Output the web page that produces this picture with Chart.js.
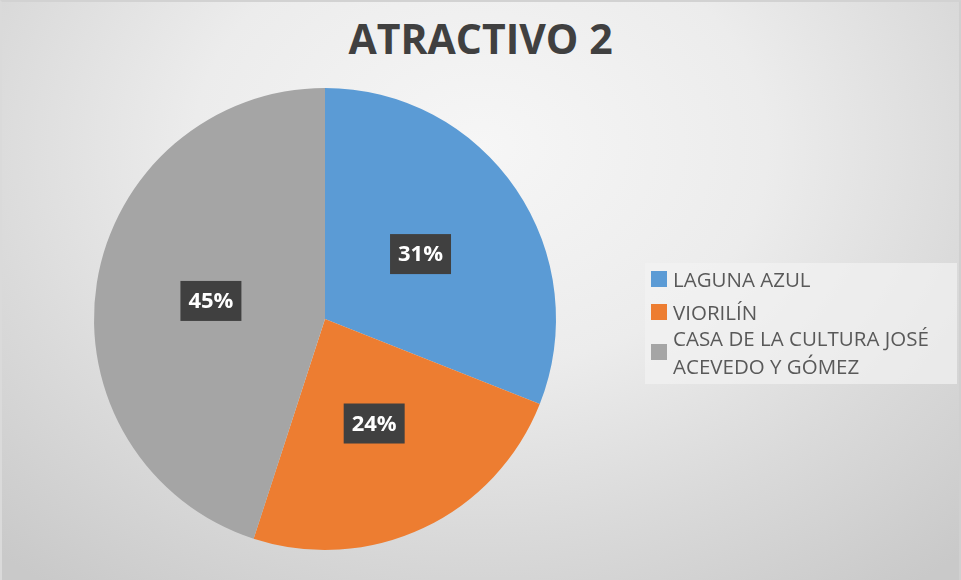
<!DOCTYPE html>
<html lang="es">
<head>
<meta charset="UTF-8">
<title>ATRACTIVO 2</title>
<script src="https://cdn.jsdelivr.net/npm/chart.js@4.4.1/dist/chart.umd.min.js"></script>
<style>
    html, body { margin: 0; padding: 0; }
    #wrap {
        position: relative;
        width: 961px;
        height: 580px;
        overflow: hidden;
        box-sizing: border-box;
        border-top: 2px solid #d2d2d2;
        border-left: 2px solid #dadada;
        border-right: 2px solid #d0d0d0;
        background: radial-gradient(ellipse 75% 95% at 50% 25%, #f6f6f6 0%, #ececec 40%, #dadada 70%, #c9c9c9 100%);
        font-family: "Open Sans", "Noto Sans", sans-serif;
    }
    #title {
        position: absolute;
        left: 0; right: 0; top: 8px;
        text-align: center;
        font-weight: bold;
        font-size: 41px;
        color: #404040;
    }
    #legend {
        position: absolute;
        left: 643px; top: 261px;
        width: 312px; height: 121px;
        background: rgba(242, 242, 242, 0.7);
        color: #595959;
        font-size: 20.5px;
    }
    .item { position: absolute; left: 6px; display: flex; align-items: center; }
    .sw { width: 16px; height: 16px; margin-right: 6px; flex: none; }
    .txt { line-height: 28px; white-space: nowrap; }
    canvas { position: absolute; left: 0; top: 0; }
</style>
</head>
<body>
<div id="wrap">
    <div id="title">ATRACTIVO 2</div>
    <canvas id="pie" width="961" height="580"></canvas>
    <div id="legend"></div>
</div>
<script>
    // data
    const labels = ['LAGUNA AZUL', 'VIORILÍN', 'CASA DE LA CULTURA JOSÉ ACEVEDO Y GÓMEZ'];
    const legendLines = [['LAGUNA AZUL'], ['VIORILÍN'], ['CASA DE LA CULTURA JOSÉ', 'ACEVEDO Y GÓMEZ']];
    const values = [31, 24, 45];
    const colors = ['#5b9bd5', '#ed7d31', '#a5a5a5'];

    // dark boxes with the percentages
    const pctLabels = {
        id: 'pctLabels',
        afterDatasetsDraw(chart) {
            const ctx = chart.ctx;
            const meta = chart.getDatasetMeta(0);
            const total = values.reduce((a, b) => a + b, 0);
            ctx.save();
            ctx.font = 'bold 22px "Open Sans", "Noto Sans", sans-serif';
            ctx.textAlign = 'center';
            ctx.textBaseline = 'middle';
            meta.data.forEach((arc, i) => {
                const p = arc.getCenterPoint();
                const txt = Math.round(values[i] / total * 100) + '%';
                const w = ctx.measureText(txt).width + 16;
                const h = 40;
                ctx.fillStyle = '#404040';
                ctx.fillRect(p.x - w / 2, p.y - h / 2, w, h);
                ctx.fillStyle = '#ffffff';
                ctx.fillText(txt, p.x, p.y + 1);
            });
            ctx.restore();
        }
    };

    new Chart(document.getElementById('pie'), {
        type: 'pie',
        data: {
            labels: labels,
            datasets: [{
                data: values,
                backgroundColor: colors,
                borderWidth: 0
            }]
        },
        options: {
            responsive: false,
            animation: false,
            layout: { padding: { left: 91, right: 406, top: 86, bottom: 32 } },
            plugins: {
                legend: { display: false },
                tooltip: { enabled: false }
            }
        },
        plugins: [pctLabels]
    });

    // legend built from the same arrays
    const legend = document.getElementById('legend');
    const tops = [2, 35, 61];
    legendLines.forEach((lines, i) => {
        const item = document.createElement('div');
        item.className = 'item';
        item.style.top = tops[i] + 'px';
        const sw = document.createElement('div');
        sw.className = 'sw';
        sw.style.background = colors[i];
        const txt = document.createElement('div');
        txt.className = 'txt';
        txt.innerHTML = lines.join('<br>');
        item.appendChild(sw);
        item.appendChild(txt);
        legend.appendChild(item);
    });
</script>
</body>
</html>
